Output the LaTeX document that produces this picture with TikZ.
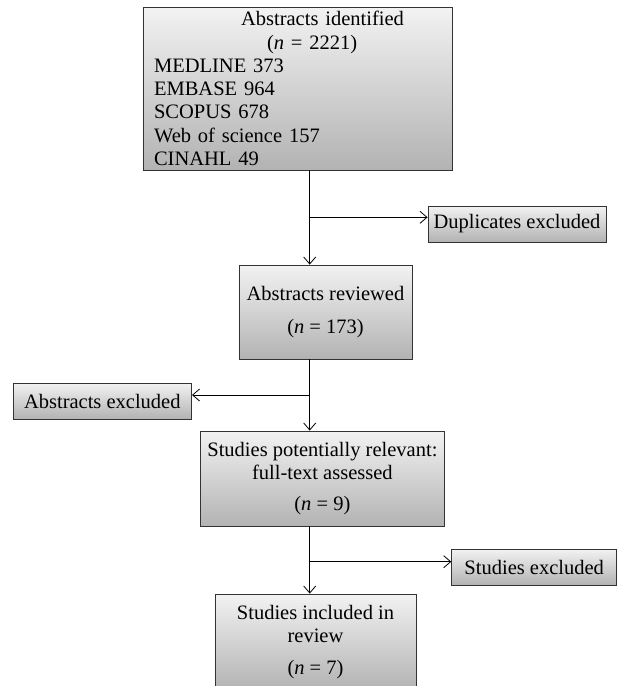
\documentclass[tikz,border=0pt]{standalone}
\usepackage{fontspec}
\setmainfont{Liberation Serif}
\usepackage{tikz}
\usetikzlibrary{arrows.meta}
\tikzset{blk/.style={rectangle,draw=black!80,line width=0.8pt,top color=black!5,bottom color=black!30,inner sep=2pt,align=center,font=\fontsize{20.5}{23.3}\selectfont}}
\tikzset{side/.style={blk,minimum height=36pt}}

\begin{document}
\begin{tikzpicture}[x=1pt,y=-1pt,>={Straight Barb[length=7pt,width=12pt]},line width=0.8pt]
	\useasboundingbox (0,0) rectangle (617,686);
		\node[blk,align=left,text width=287.5pt,inner xsep=11pt,inner ysep=0pt,minimum height=163pt] (ident) at (297.8,88.5) {\hspace*{87pt}Abstracts identified\\
			\hspace*{113pt}(\textit{n} = 2221)\\
			MEDLINE 373\\
			EMBASE 964\\
			SCOPUS 678\\
			Web of science 157\\
			CINAHL 49};
        \node[side,minimum width=178pt] (dup) at (517,224) {Duplicates excluded};
        \node[blk,minimum width=173pt,minimum height=94pt] (rev) at (325.5,312) {Abstracts reviewed\\[9pt](\textit{n} = 173)};
        \node[side,minimum width=178.6pt] (absex) at (102.3,401) {Abstracts excluded};
        \node[blk,minimum width=244.7pt,minimum height=95pt] (full) at (322.4,478.5) {Studies potentially relevant:\\full-text assessed\\[7pt](\textit{n} = 9)};
        \node[side,minimum width=165pt] (studex) at (534.2,567) {Studies excluded};
        \node[blk,minimum width=201pt,minimum height=96pt] (incl) at (315.5,642) {Studies included in\\review\\[8pt](\textit{n} = 7)};

        \coordinate (sp) at (309.7,0);
        \coordinate (j1) at (309.7,217.3);
        \coordinate (j2) at (309.7,395);
        \coordinate (j3) at (309.7,561.7);

        \draw [->] (ident.south -| sp) -- (rev.north -| sp);
		\draw [->] (j1) -- (j1 -| dup.west);
		\draw [->] (rev.south -| sp) -- (full.north -| sp);
		\draw [->] (j2) -- (j2 -| absex.east);
		\draw [->] (full.south -| sp) -- (incl.north -| sp);
		\draw [->] (j3) -- (j3 -| studex.west);
    \end{tikzpicture}
\end{document}
